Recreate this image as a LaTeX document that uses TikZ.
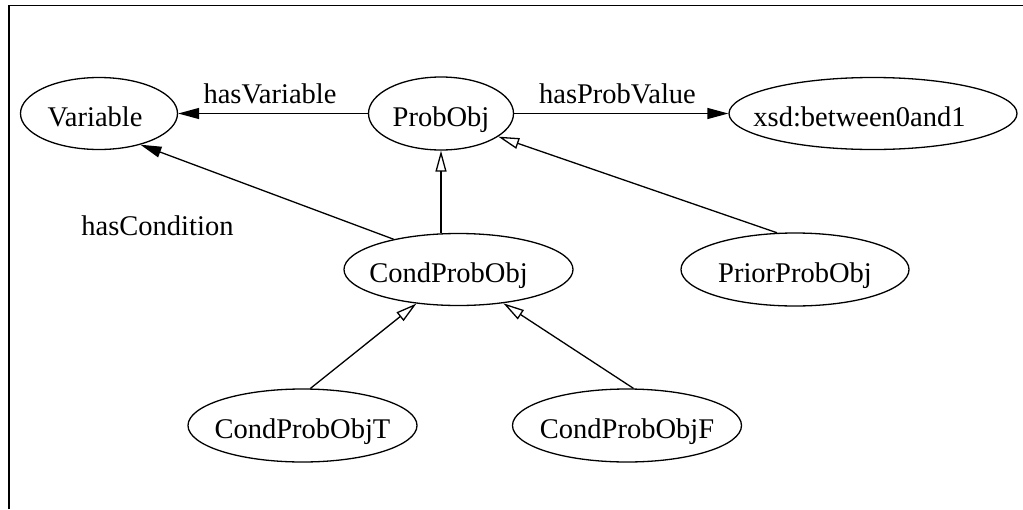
\documentclass[tikz,border=0pt]{standalone}
\usepackage{fontspec}
\setmainfont{Liberation Serif}
\usetikzlibrary{arrows.meta,shapes.geometric}
\tikzset{
  tkern/.store in=\tkern,
  cls/.style={ellipse, draw, line width=1.3pt, inner sep=0pt,
    text height=25pt, text depth=0pt,
    execute at begin node={\hbox to 0pt\bgroup\hss\kern\tkern},
    execute at end node={\hss\egroup}},
  lbl/.style={inner sep=0pt, text height=25pt, text depth=0pt},
  rel/.style={draw, line width=1.3pt, -{Triangle[length=21pt,width=11pt]}},
  isa/.style={draw, line width=1.3pt, -{Triangle[open,length=21pt,width=11pt]}}
}
\begin{document}
\begin{tikzpicture}[x=1pt, y=-1pt, tkern=0pt,
  font=\fontsize{28.5}{34}\selectfont]
\useasboundingbox (0,0) rectangle (1023,509);
% frame
\draw[line width=1.7pt] (9,509) -- (9,5.5) -- (1023,5.5);
% classes
\node[cls, minimum width=157pt, minimum height=72pt, tkern=-8pt] (var) at (99,113.5) {Variable};
\node[cls, minimum width=145pt, minimum height=73pt] (po) at (441,113.5) {ProbObj};
\node[cls, minimum width=288pt, minimum height=72pt, tkern=-27pt] (xsd) at (873,113.5) {xsd:between0and1};
\node[cls, minimum width=229pt, minimum height=72pt, tkern=-20pt] (cpo) at (458.5,269.5) {CondProbObj};
\node[cls, minimum width=228pt, minimum height=73pt] (ppo) at (795,269.5) {PriorProbObj};
\node[cls, minimum width=229pt, minimum height=73pt] (cpt) at (302.5,425.5) {CondProbObjT};
\node[cls, minimum width=229pt, minimum height=73pt] (cpf) at (627,425.5) {CondProbObjF};
% property labels
\node[lbl] (lv) at (270,90.5) {hasVariable};
\node[lbl] (lp) at (617.5,90.5) {hasProbValue};
\node[lbl] (lc) at (157.5,222.5) {hasCondition};
% properties
\draw[rel] (po) -- (var);
\draw[rel] (po) -- (xsd);
\draw[rel] (cpo.155) -- (var.-37);
% subclass links
\draw[isa] (po.south |- cpo.north) -- (po.south);
\draw[isa] (ppo.116.6) -- (po.-22);
\draw[isa] (cpt.78.4) -- (cpo.-141);
\draw[isa] (cpf.80.7) -- (cpo.-37.4);
\end{tikzpicture}
\end{document}
